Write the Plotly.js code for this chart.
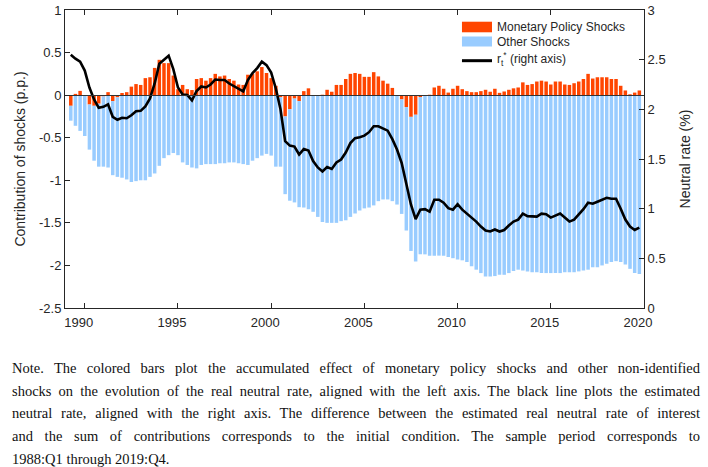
<!DOCTYPE html>
<html>
<head>
<meta charset="utf-8">
<script src="https://cdn.plot.ly/plotly-3.0.1.min.js"></script>
<style>
  body { margin: 0; background: #fff; }
  #chart { width: 708px; height: 340px; }
  #note { position: absolute; left: 12px; top: 357px; width: 688px;
          font-family: "Liberation Serif", "DejaVu Serif", serif; font-size: 14.5px;
          line-height: 22.7px; color: #111; }
  #note div { text-align: justify; text-align-last: justify; }
  #note div.last { text-align: left; text-align-last: left; }
</style>
</head>
<body>
<div id="chart"></div>
<div id="note">
  <div>Note. The colored bars plot the accumulated effect of monetary policy shocks and other non-identified</div>
  <div>shocks on the evolution of the real neutral rate, aligned with the left axis. The black line plots the estimated</div>
  <div>neutral rate, aligned with the right axis. The difference between the estimated real neutral rate of interest</div>
  <div>and the sum of contributions corresponds to the initial condition. The sample period corresponds to</div>
  <div class="last">1988:Q1 through 2019:Q4.</div>
</div>
<script>
// first quarter shown: 1989:Q2, last: 2019:Q4
var startYear = 1989;
var startQuarter = 2;

// contribution of monetary policy shocks (p.p.)
var mps = [
  -0.125, 0.015, 0.05, 0.0, -0.11, -0.125, -0.10, -0.015, 0.035, -0.07,
  -0.025, 0.025, 0.035, 0.10, 0.13, 0.12, 0.20, 0.21, 0.32, 0.415,
  0.376, 0.376, 0.23, 0.07, 0.12, 0.07, 0.06, 0.19, 0.20, 0.17,
  0.20, 0.25, 0.22, 0.23, 0.19, 0.17, 0.125, 0.12, 0.24, 0.25,
  0.28, 0.33, 0.26, 0.20, 0.11, -0.025, -0.25, -0.165, -0.04, -0.07,
  0.047, 0.08, 0.0, 0.0, 0.005, 0.063, 0.04, 0.12, 0.12, 0.19,
  0.25, 0.26, 0.25, 0.215, 0.215, 0.27, 0.22, 0.17, 0.135, 0.085,
  0.0, -0.05, -0.14, -0.255, -0.23, -0.022, 0.0, 0.005, 0.09, 0.11,
  0.075, 0.03, 0.075, 0.11, 0.07, 0.047, 0.035, 0.035, 0.047, 0.063,
  0.04, 0.075, 0.027, 0.043, 0.063, 0.08, 0.09, 0.15, 0.12, 0.13,
  0.16, 0.17, 0.16, 0.125, 0.16, 0.16, 0.125, 0.12, 0.14, 0.16,
  0.19, 0.25, 0.195, 0.21, 0.21, 0.21, 0.19, 0.19, 0.11, 0.055,
  0.01, 0.03, 0.055
];

// contribution of other shocks (p.p.)
var other = [
  -0.175, -0.36, -0.42, -0.48, -0.53, -0.645, -0.74, -0.825, -0.85, -0.87,
  -0.935, -0.97, -0.99, -1.02, -1.01, -1.0, -1.0, -0.96, -0.92, -0.83,
  -0.74, -0.705, -0.68, -0.705, -0.79, -0.82, -0.85, -0.86, -0.82, -0.81,
  -0.81, -0.81, -0.80, -0.80, -0.79, -0.79, -0.80, -0.81, -0.82, -0.77,
  -0.74, -0.71, -0.69, -0.71, -0.84, -0.815, -0.913, -1.075, -1.22, -1.246,
  -1.32, -1.34, -1.37, -1.43, -1.49, -1.50, -1.50, -1.50, -1.48, -1.47,
  -1.43, -1.39, -1.355, -1.33, -1.32, -1.295, -1.245, -1.225, -1.225, -1.245,
  -1.285, -1.345, -1.45, -1.575, -1.725, -1.848, -1.87, -1.885, -1.885, -1.885,
  -1.885, -1.90, -1.915, -1.93, -1.94, -1.96, -2.01, -2.05, -2.09, -2.13,
  -2.13, -2.125, -2.11, -2.11, -2.09, -2.065, -2.05, -2.06, -2.07, -2.08,
  -2.08, -2.09, -2.09, -2.09, -2.09, -2.09, -2.08, -2.08, -2.08, -2.07,
  -2.06, -2.05, -2.02, -2.02, -2.0, -1.98, -1.96, -1.95, -1.96, -1.99,
  -2.04, -2.09, -2.10
];

// estimated neutral rate r*_t (%), right axis
var rstar = [
  2.55, 2.51, 2.48, 2.39, 2.22, 2.10, 2.015, 2.025, 2.05, 1.925,
  1.895, 1.915, 1.91, 1.94, 1.98, 1.985, 2.03, 2.11, 2.26, 2.46,
  2.50, 2.54, 2.405, 2.22, 2.15, 2.145, 2.09, 2.185, 2.23, 2.22,
  2.25, 2.30, 2.295, 2.295, 2.26, 2.235, 2.21, 2.18, 2.295, 2.365,
  2.415, 2.48, 2.445, 2.37, 2.21, 2.0, 1.68, 1.635, 1.625, 1.545,
  1.60, 1.585, 1.48, 1.415, 1.375, 1.42, 1.40, 1.465, 1.495, 1.565,
  1.66, 1.71, 1.72, 1.735, 1.77, 1.83, 1.83, 1.81, 1.785, 1.70,
  1.595, 1.46, 1.26, 1.04, 0.895, 0.99, 0.995, 0.97, 1.09, 1.09,
  1.06, 1.005, 0.99, 1.045, 0.99, 0.95, 0.91, 0.87, 0.82, 0.78,
  0.77, 0.79, 0.77, 0.785, 0.83, 0.87, 0.89, 0.95, 0.925, 0.92,
  0.92, 0.95, 0.945, 0.91, 0.93, 0.95, 0.91, 0.87, 0.89, 0.94,
  0.995, 1.06, 1.05, 1.07, 1.09, 1.11, 1.10, 1.10, 1.0, 0.89,
  0.82, 0.785, 0.81
];

var xTicks = [1990, 1995, 2000, 2005, 2010, 2015, 2020];
var yTicks = [-2.5, -2, -1.5, -1, -0.5, 0, 0.5, 1];
var yTickText = ['-2.5', '-2', '-1.5', '-1', '-0.5', '0', '0.5', '1'];
var y2Ticks = [0, 0.5, 1, 1.5, 2, 2.5, 3];
var y2TickText = ['0', '0.5', '1', '1.5', '2', '2.5', '3'];

var dates = mps.map(function (_, i) { return startYear + (startQuarter - 1 + i) / 4; });

var axisCol = '#262626';
var orange = '#FF4500';
var blue = '#99CCFF';

var traces = [
  { x: dates, y: mps, type: 'bar', name: 'Monetary Policy Shocks',
    marker: { color: orange, line: { width: 0 } } },
  { x: dates, y: other, type: 'bar', name: 'Other Shocks',
    marker: { color: blue, line: { width: 0 } } },
  { x: dates, y: rstar, type: 'scatter', mode: 'lines', yaxis: 'y2', name: 'r*',
    line: { color: '#000', width: 2.6 } }
];

// hand-built legend box, top right like the original
var lx0 = 0.6856, lx1 = 0.7375, ltx = 0.7421;
var legendShapes = [
  { type: 'rect', xref: 'paper', yref: 'paper', x0: lx0, x1: lx1, y0: 0.9252, y1: 0.9607,
    fillcolor: orange, line: { width: 0 } },
  { type: 'rect', xref: 'paper', yref: 'paper', x0: lx0, x1: lx1, y0: 0.8775, y1: 0.9111,
    fillcolor: blue, line: { width: 0 } },
  { type: 'line', xref: 'paper', yref: 'paper', x0: lx0, x1: lx1, y0: 0.8299, y1: 0.8299,
    line: { color: '#000', width: 3 } }
];
var legFont = { family: 'Liberation Sans, Arial, sans-serif', size: 12, color: '#262626' };
var legendText = [
  { text: 'Monetary Policy Shocks', y: 0.943 },
  { text: 'Other Shocks', y: 0.8926 },
  { text: 'r<sub>t</sub><sup>*</sup> (right axis)', y: 0.8356 }
].map(function (d) {
  return { xref: 'paper', yref: 'paper', x: ltx, y: d.y, xanchor: 'left', yanchor: 'middle',
           text: d.text, showarrow: false, font: legFont };
});

var layout = {
  width: 708, height: 340,
  margin: { l: 65, r: 64, t: 10, b: 32 },
  paper_bgcolor: '#fff', plot_bgcolor: '#fff',
  font: { family: 'Liberation Sans, Arial, sans-serif', size: 13, color: axisCol },
  barmode: 'relative', bargap: 0.25,
  showlegend: false,
  xaxis: {
    range: [1988.94, 2020], tickvals: xTicks, ticks: 'inside', ticklen: 5,
    tickcolor: axisCol, showline: true, linecolor: axisCol, linewidth: 1,
    mirror: 'ticks', showgrid: false, zeroline: false,
    ticklabelshift: -6, ticklabelstandoff: 2
  },
  yaxis: {
    range: [-2.5, 1], tickvals: yTicks, ticktext: yTickText, ticks: 'inside', ticklen: 5,
    tickcolor: axisCol, showline: true, linecolor: axisCol, linewidth: 1,
    showgrid: false, zeroline: true, zerolinecolor: '#333', zerolinewidth: 1,
    zerolinelayer: 'above traces',
    title: { text: 'Contribution of shocks (p.p.)', font: { size: 14 }, standoff: 10 }
  },
  yaxis2: {
    overlaying: 'y', side: 'right', range: [0, 3], tickvals: y2Ticks, ticktext: y2TickText,
    ticks: 'inside', ticklen: 5, tickcolor: axisCol, showline: true, linecolor: axisCol,
    linewidth: 1, showgrid: false, zeroline: false,
    title: { text: 'Neutral rate (%)', font: { size: 14 }, standoff: 15 }
  },
  shapes: legendShapes,
  annotations: legendText
};

Plotly.newPlot('chart', traces, layout, { staticPlot: true, displayModeBar: false });
</script>
</body>
</html>
